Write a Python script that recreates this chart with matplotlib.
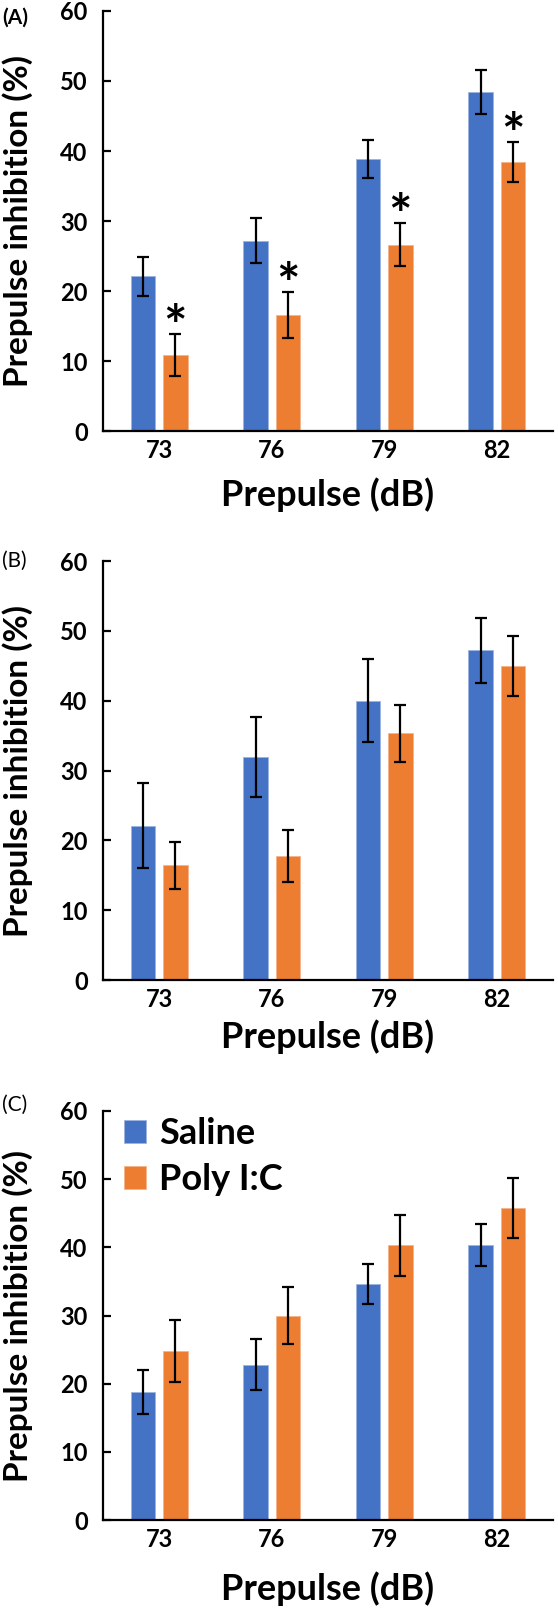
import numpy as np
import matplotlib
matplotlib.use("Agg")
import matplotlib.pyplot as plt

plt.rcParams['font.family'] = ['Lato', 'DejaVu Sans']

categories = ["73", "76", "79", "82"]
groups = ["Saline", "Poly I:C"]
colors = ["#4472C4", "#ED7D31"]

# panel A
a_saline = [22.1, 27.2, 38.8, 48.4]
a_saline_err = [2.8, 3.2, 2.7, 3.1]
a_poly = [10.9, 16.6, 26.6, 38.4]
a_poly_err = [3.0, 3.3, 3.1, 2.9]
a_signif = [True, True, True, True]

# panel B
b_saline = [22.1, 31.9, 40.0, 47.2]
b_saline_err = [6.1, 5.7, 5.9, 4.6]
b_poly = [16.4, 17.8, 35.3, 44.9]
b_poly_err = [3.4, 3.7, 4.1, 4.3]

# panel C
c_saline = [18.8, 22.8, 34.6, 40.3]
c_saline_err = [3.2, 3.8, 2.9, 3.1]
c_poly = [24.8, 30.0, 40.3, 45.8]
c_poly_err = [4.6, 4.2, 4.5, 4.4]

W, H = 558, 1610
fig = plt.figure(figsize=(W / 100, H / 100), dpi=100)

def ax_box(top_px, bottom_px, left_px=103, right_px=553):
    return [left_px / W, 1 - bottom_px / H, (right_px - left_px) / W, (bottom_px - top_px) / H]

# tag, axes top px, axes bottom px, data..., xlabel y (axes frac), tag centre px
panels = [
    ("(A)", 11, 431, a_saline, a_saline_err, a_poly, a_poly_err, -0.11, 18),
    ("(B)", 561, 980, b_saline, b_saline_err, b_poly, b_poly_err, -0.095, 561),
    ("(C)", 1111, 1520, c_saline, c_saline_err, c_poly, c_poly_err, -0.125, 1105),
]

x = np.arange(len(categories))
width = 0.22
offset = 0.144

for i, (tag, top_px, bot_px, sal, sal_e, pol, pol_e, xl_y, tag_y) in enumerate(panels):
    ax = fig.add_axes(ax_box(top_px, bot_px))
    ekw = dict(elinewidth=1.6, capthick=1.6, ecolor="black")
    ax.bar(x - offset, sal, width, yerr=sal_e, color=colors[0], edgecolor="#9db4e0",
           linewidth=0.6, capsize=4, error_kw=ekw, label=groups[0], zorder=2)
    ax.bar(x + offset, pol, width, yerr=pol_e, color=colors[1], edgecolor="#f5b48a",
           linewidth=0.6, capsize=4, error_kw=ekw, label=groups[1], zorder=2)
    ax.set_xlim(-0.5, 3.5)
    ax.set_ylim(0, 60)
    ax.set_yticks(np.arange(0, 61, 10))
    ax.set_xticks(x)
    ax.set_xticklabels(categories)
    for s in ["top", "right"]:
        ax.spines[s].set_visible(False)
    for s in ["left", "bottom"]:
        ax.spines[s].set_linewidth(1.6)
        ax.spines[s].set_color("black")
    ax.tick_params(axis="y", direction="in", length=6, width=1.6, labelsize=17, pad=11)
    ax.tick_params(axis="x", length=0, labelsize=17, pad=6)
    for lab in ax.get_xticklabels() + ax.get_yticklabels():
        lab.set_fontweight("bold")
    ax.set_ylabel("Prepulse inhibition (%)", fontsize=24, fontweight="bold")
    ax.yaxis.set_label_coords(-0.155, 0.5)
    ax.set_xlabel("Prepulse (dB)", fontsize=26, fontweight="bold")
    ax.xaxis.set_label_coords(0.5, xl_y)
    fig.text(2 / W, 1 - tag_y / H, tag, fontsize=15,
             fontweight="bold" if tag == "(A)" else "normal", va="center", ha="left")
    if i == 0:
        for j, sig in enumerate(a_signif):
            if sig:
                ax.text(x[j] + offset, pol[j] + pol_e[j] - 1.6, "*", ha="center", va="baseline",
                        fontsize=40, fontweight="bold")
    if i == 2:
        ax.legend(loc="upper left", bbox_to_anchor=(0.047, 0.985), frameon=False,
                  prop={"size": 26, "weight": "bold"}, handlelength=0.6, handleheight=0.6,
                  handletextpad=0.36, labelspacing=0.35, borderaxespad=0, borderpad=0)

fig.savefig("out.png", dpi=100)
